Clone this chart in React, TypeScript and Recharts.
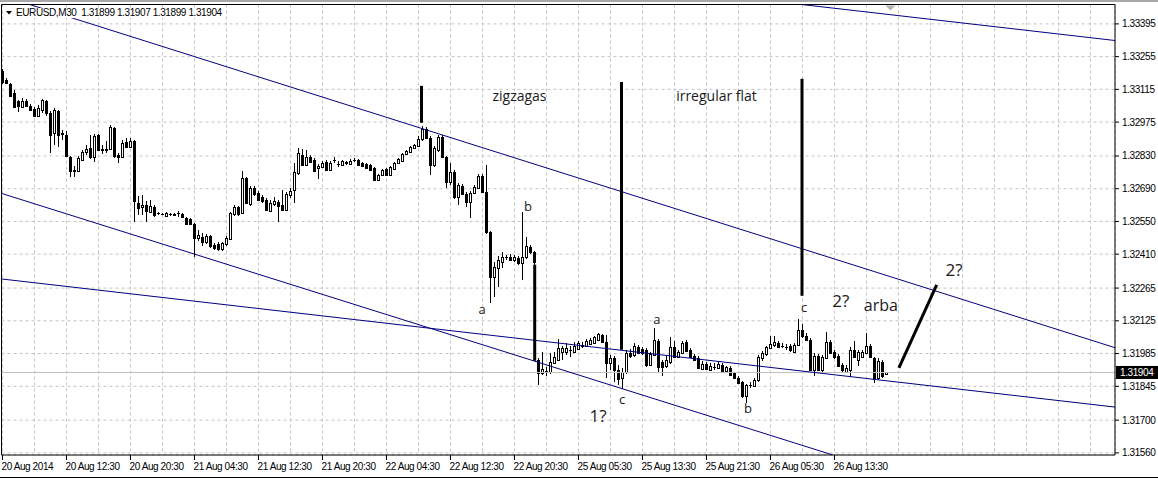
import React from 'react';
import { ComposedChart, Bar, XAxis, YAxis, CartesianGrid, ReferenceLine, ReferenceDot } from 'recharts';

// EURUSD M30 candles
const opens = [
  1.33194, 1.33156, 1.33139, 1.331, 1.33066, 1.3304, 1.33066, 1.33045, 1.33032, 1.33002,
  1.33028, 1.33066, 1.33015, 1.32929, 1.33023, 1.32929, 1.32921, 1.32827, 1.32771, 1.32767,
  1.32814, 1.32848, 1.32865, 1.32827, 1.32921, 1.32861, 1.32861, 1.32861, 1.32951, 1.32835,
  1.32827, 1.32891, 1.32869, 1.32895, 1.3263, 1.32613, 1.32621, 1.32591, 1.32613, 1.32587,
  1.32583, 1.32574, 1.32583, 1.32583, 1.32587, 1.32583, 1.32566, 1.32561, 1.3254, 1.3248,
  1.32484, 1.32463, 1.32489, 1.3245, 1.32454, 1.32433, 1.32454, 1.32476, 1.32583, 1.32613,
  1.32587, 1.32737, 1.32626, 1.32694, 1.32673, 1.32655, 1.32643, 1.32596, 1.32626, 1.32634,
  1.32621, 1.326, 1.32664, 1.32685, 1.32758, 1.32835, 1.32792, 1.32827, 1.32814, 1.3278,
  1.32784, 1.32805, 1.32771, 1.32814, 1.32797, 1.32792, 1.32801, 1.32797, 1.32814, 1.32814,
  1.32801, 1.32797, 1.32792, 1.3278, 1.32728, 1.3275, 1.32775, 1.3275, 1.32775, 1.32801,
  1.32809, 1.32839, 1.32848, 1.32865, 1.32874, 1.32904, 1.32946, 1.32908, 1.32792, 1.32856,
  1.32912, 1.32827, 1.3272, 1.32762, 1.32655, 1.32703, 1.32668, 1.32634, 1.32673, 1.32694,
  1.32745, 1.32677, 1.32506, 1.32313, 1.32352, 1.32377, 1.32399, 1.32399, 1.32386, 1.32395,
  1.32373, 1.32399, 1.32442, 1.3242, 1.31958, 1.31903, 1.31907, 1.31907, 1.31945, 1.31958,
  1.31993, 1.31993, 1.32001, 1.31993, 1.32005, 1.32018, 1.32018, 1.32027, 1.32031, 1.32044,
  1.32065, 1.32035, 1.31945, 1.31967, 1.31915, 1.31881, 1.31907, 1.31988, 1.3198, 1.32014,
  1.32005, 1.32001, 1.31937, 1.3198, 1.3204, 1.3195, 1.31933, 1.3195, 1.32014, 1.31971,
  1.31988, 1.32035, 1.32001, 1.31975, 1.31967, 1.3192, 1.31941, 1.31915, 1.31928, 1.31924,
  1.31937, 1.31911, 1.31924, 1.31903, 1.31881, 1.31864, 1.31804, 1.31851, 1.31847, 1.31873,
  1.31967, 1.31984, 1.3201, 1.32022, 1.32031, 1.32018, 1.32014, 1.32018, 1.31993, 1.32022,
  1.32087, 1.32061, 1.32044, 1.31915, 1.31975, 1.31915, 1.31967, 1.32035, 1.31993, 1.31975,
  1.31937, 1.31907, 1.31915, 1.32001, 1.31958, 1.31971, 1.31988, 1.32018, 1.31967, 1.31881,
  1.3195, 1.31899,
];
const highs = [
  1.33203, 1.33164, 1.33143, 1.33113, 1.3307, 1.33079, 1.33075, 1.33053, 1.3304, 1.33049,
  1.33075, 1.3307, 1.33023, 1.33036, 1.33028, 1.32942, 1.32938, 1.32831, 1.32788, 1.32831,
  1.32856, 1.32878, 1.32921, 1.32925, 1.32925, 1.32878, 1.32895, 1.32963, 1.32955, 1.32844,
  1.32899, 1.32908, 1.32908, 1.32899, 1.3266, 1.32664, 1.32638, 1.32643, 1.32621, 1.32591,
  1.32587, 1.32591, 1.32587, 1.32587, 1.32596, 1.32587, 1.3257, 1.32566, 1.32544, 1.32514,
  1.32502, 1.32497, 1.32493, 1.32459, 1.32463, 1.32463, 1.32489, 1.32591, 1.32621, 1.32617,
  1.32767, 1.32741, 1.32703, 1.32703, 1.32681, 1.32664, 1.32651, 1.32643, 1.32655, 1.32643,
  1.32685, 1.32677, 1.32694, 1.32801, 1.32865, 1.32861, 1.32856, 1.32835, 1.32822, 1.32797,
  1.32809, 1.32814, 1.32809, 1.32827, 1.32809, 1.32814, 1.32809, 1.32818, 1.32822, 1.32818,
  1.32805, 1.32801, 1.32797, 1.32784, 1.32754, 1.32775, 1.3278, 1.32788, 1.32805, 1.32822,
  1.32844, 1.32856, 1.32874, 1.32882, 1.32916, 1.32959, 1.32955, 1.32916, 1.32874, 1.32921,
  1.32921, 1.32831, 1.32801, 1.32771, 1.32715, 1.32711, 1.32677, 1.32681, 1.32707, 1.32754,
  1.32754, 1.32792, 1.3251, 1.32377, 1.32403, 1.3242, 1.32407, 1.32412, 1.32407, 1.32403,
  1.32591, 1.32484, 1.3245, 1.32425, 1.31967, 1.31993, 1.31928, 1.31988, 1.31993, 1.32048,
  1.32018, 1.32031, 1.32018, 1.32035, 1.3204, 1.32035, 1.32048, 1.32052, 1.32061, 1.32074,
  1.32069, 1.32065, 1.3198, 1.31975, 1.31937, 1.31924, 1.32001, 1.32005, 1.32031, 1.32022,
  1.32014, 1.3201, 1.31993, 1.32095, 1.32048, 1.31958, 1.3198, 1.32057, 1.3204, 1.32001,
  1.3204, 1.32044, 1.3201, 1.31984, 1.31975, 1.31954, 1.3195, 1.31945, 1.31945, 1.3195,
  1.31945, 1.31933, 1.31933, 1.31907, 1.3189, 1.31868, 1.31856, 1.31864, 1.31881, 1.3198,
  1.31997, 1.32018, 1.32061, 1.32061, 1.3204, 1.32031, 1.32027, 1.32027, 1.32031, 1.32134,
  1.32112, 1.32074, 1.32052, 1.31988, 1.31984, 1.3198, 1.32078, 1.32044, 1.32001, 1.31984,
  1.31945, 1.31937, 1.32014, 1.3204, 1.32001, 1.32001, 1.32074, 1.32027, 1.31971, 1.31967,
  1.31958, 1.31907,
];
const lows = [
  1.33139, 1.33139, 1.33083, 1.33036, 1.33019, 1.33036, 1.3304, 1.33023, 1.32998, 1.32998,
  1.33015, 1.33002, 1.32844, 1.32878, 1.32869, 1.32899, 1.32825, 1.32741, 1.32741, 1.32762,
  1.32809, 1.32835, 1.32818, 1.32805, 1.32852, 1.32839, 1.32844, 1.32856, 1.32822, 1.32801,
  1.32822, 1.32865, 1.32865, 1.32549, 1.32578, 1.32578, 1.32549, 1.32587, 1.3257, 1.32578,
  1.32578, 1.3257, 1.32574, 1.32574, 1.3257, 1.32566, 1.32536, 1.32536, 1.32399, 1.32467,
  1.32446, 1.32454, 1.32437, 1.32429, 1.32425, 1.32425, 1.32446, 1.32472, 1.32574, 1.32574,
  1.32583, 1.32626, 1.32617, 1.3266, 1.32638, 1.3263, 1.32596, 1.32591, 1.32617, 1.32549,
  1.32596, 1.32596, 1.32651, 1.3263, 1.3275, 1.32788, 1.32788, 1.32801, 1.32762, 1.32732,
  1.3278, 1.32767, 1.32767, 1.32801, 1.32784, 1.32788, 1.32792, 1.32792, 1.32805, 1.32788,
  1.32784, 1.32775, 1.32767, 1.32724, 1.32724, 1.32745, 1.32745, 1.32745, 1.32771, 1.32797,
  1.32805, 1.32835, 1.32844, 1.32861, 1.32869, 1.32895, 1.32904, 1.3275, 1.32784, 1.32848,
  1.32822, 1.32694, 1.32707, 1.32647, 1.32621, 1.32664, 1.32613, 1.32566, 1.32668, 1.3269,
  1.32673, 1.32497, 1.32202, 1.32228, 1.32271, 1.32352, 1.32386, 1.32382, 1.32377, 1.32365,
  1.323, 1.3239, 1.32412, 1.32365, 1.31851, 1.31894, 1.3189, 1.31898, 1.31941, 1.31954,
  1.31958, 1.3198, 1.31971, 1.31988, 1.32001, 1.3201, 1.32014, 1.32022, 1.32027, 1.3204,
  1.32031, 1.31881, 1.31915, 1.31864, 1.31851, 1.31834, 1.31898, 1.31967, 1.31971, 1.31984,
  1.3198, 1.31928, 1.31933, 1.31975, 1.31907, 1.3189, 1.31924, 1.31941, 1.31967, 1.31967,
  1.31984, 1.31993, 1.31967, 1.31954, 1.3192, 1.31915, 1.31915, 1.31911, 1.31915, 1.3192,
  1.31903, 1.31907, 1.3189, 1.31877, 1.31856, 1.31796, 1.31774, 1.31839, 1.31843, 1.31864,
  1.31954, 1.31975, 1.32005, 1.32014, 1.3201, 1.3201, 1.32001, 1.31993, 1.31988, 1.32018,
  1.32052, 1.3204, 1.31911, 1.3189, 1.31911, 1.31907, 1.31963, 1.31984, 1.31963, 1.31928,
  1.31907, 1.31903, 1.31886, 1.31967, 1.31933, 1.31967, 1.31984, 1.31967, 1.3186, 1.31873,
  1.31881, 1.31899,
];
const closes = [
  1.33147, 1.33143, 1.33087, 1.3304, 1.33045, 1.33066, 1.33045, 1.33028, 1.33002, 1.33036,
  1.3307, 1.33015, 1.32921, 1.33028, 1.32921, 1.32925, 1.32829, 1.32767, 1.32767, 1.32822,
  1.32848, 1.32861, 1.32827, 1.32916, 1.32856, 1.32856, 1.32856, 1.32955, 1.32831, 1.32827,
  1.32886, 1.32869, 1.32895, 1.32638, 1.32608, 1.32621, 1.32596, 1.32617, 1.32578, 1.32585,
  1.32584, 1.32587, 1.32582, 1.32578, 1.32588, 1.3257, 1.3254, 1.3254, 1.3248, 1.32493,
  1.32463, 1.32489, 1.32446, 1.32437, 1.32433, 1.32459, 1.3248, 1.32587, 1.32613, 1.32583,
  1.32737, 1.3263, 1.32694, 1.32668, 1.32643, 1.32638, 1.326, 1.3263, 1.32638, 1.32617,
  1.326, 1.32668, 1.32681, 1.32762, 1.32844, 1.32792, 1.32827, 1.32805, 1.32767, 1.32788,
  1.32801, 1.32771, 1.32801, 1.32812, 1.32795, 1.32809, 1.32803, 1.32809, 1.32812, 1.32792,
  1.32788, 1.3278, 1.32771, 1.32728, 1.3275, 1.32771, 1.3275, 1.32784, 1.32801, 1.32818,
  1.32839, 1.32852, 1.32869, 1.32878, 1.32904, 1.32946, 1.32908, 1.32792, 1.32865, 1.32912,
  1.32827, 1.3272, 1.32762, 1.32655, 1.32707, 1.32668, 1.32634, 1.32673, 1.32698, 1.32745,
  1.32677, 1.32506, 1.32313, 1.32356, 1.32386, 1.32399, 1.32397, 1.32386, 1.32399, 1.32373,
  1.32399, 1.32446, 1.3242, 1.32377, 1.31903, 1.3192, 1.31911, 1.3195, 1.31971, 1.3201,
  1.3201, 1.3201, 1.31999, 1.32018, 1.32031, 1.32022, 1.3204, 1.32044, 1.32057, 1.32069,
  1.32035, 1.31945, 1.31967, 1.31915, 1.31877, 1.31907, 1.31988, 1.31975, 1.32018, 1.31988,
  1.31988, 1.31937, 1.31984, 1.32044, 1.31928, 1.31928, 1.31958, 1.32014, 1.31971, 1.31993,
  1.32031, 1.31997, 1.31971, 1.31958, 1.31924, 1.31941, 1.3192, 1.31933, 1.31927, 1.31941,
  1.31907, 1.31928, 1.31894, 1.31881, 1.3186, 1.31804, 1.31851, 1.31849, 1.31873, 1.31971,
  1.31988, 1.32014, 1.32027, 1.32035, 1.32014, 1.32016, 1.32012, 1.32001, 1.32022, 1.32087,
  1.32061, 1.32044, 1.31915, 1.31975, 1.31915, 1.31971, 1.32035, 1.31988, 1.31971, 1.31933,
  1.31915, 1.31924, 1.32001, 1.31971, 1.31993, 1.31993, 1.32018, 1.31971, 1.31877, 1.31954,
  1.3189, 1.31904,
];

// one label every 16 bars
const timeLabels = [
  '20 Aug 2014', '20 Aug 12:30', '20 Aug 20:30', '21 Aug 04:30', '21 Aug 12:30', '21 Aug 20:30',
  '22 Aug 04:30', '22 Aug 12:30', '22 Aug 20:30', '25 Aug 05:30', '25 Aug 13:30', '25 Aug 21:30',
  '26 Aug 05:30', '26 Aug 13:30',
];
const priceTicks = [
  1.33395, 1.33255, 1.33115, 1.32975, 1.3283, 1.3269, 1.3255, 1.3241, 1.32265, 1.32125,
  1.31985, 1.31845, 1.317, 1.3156,
];
const lastPrice = 1.31904;

// drawn objects: [bar, price, bar, price]
const trendLines = [
  [6.8, 1.33478, 278.125, 1.3201],
  [199.8, 1.33478, 278.125, 1.33324],
  [-0.25, 1.3267, 207.6, 1.31551],
  [-0.25, 1.32304, 278.125, 1.31756],
];
const markerLines = [
  [104.75, 1.3313, 104.75, 1.32972],
  [133.05, 1.32365, 133.05, 1.31954],
  [154.75, 1.33147, 154.75, 1.32001],
  [199.875, 1.3316, 199.875, 1.32232],
  [224.1, 1.31924, 233.55, 1.32279],
];
const notes = [
  { text: 'zigzagas', bar: 129.25, price: 1.33083, size: 14 },
  { text: 'irregular flat', bar: 178.5, price: 1.33083, size: 14 },
  { text: 'b', bar: 131.4, price: 1.32613, size: 13 },
  { text: 'a', bar: 119.9, price: 1.32172, size: 13 },
  { text: 'a', bar: 163.6, price: 1.32129, size: 13 },
  { text: 'c', bar: 154.9, price: 1.31787, size: 13 },
  { text: '1?', bar: 148.9, price: 1.31715, size: 17 },
  { text: 'b', bar: 186.4, price: 1.31749, size: 13 },
  { text: 'c', bar: 200.4, price: 1.32181, size: 13 },
  { text: '2?', bar: 209.6, price: 1.32206, size: 17 },
  { text: 'arba', bar: 219.6, price: 1.32189, size: 16 },
  { text: '2?', bar: 237.9, price: 1.32339, size: 17 },
];

const X_MIN = -0.25;
const X_MAX = 278.125;
const Y_MIN = 1.31551;
const Y_MAX = 1.33478;

const data = opens.map((o, i) => ({
  i,
  open: o,
  high: highs[i],
  low: lows[i],
  close: closes[i],
  range: [lows[i], highs[i]],
}));

const gridBars = Array.from({ length: 35 }, (_, k) => k * 8);
const axisFont = { fontFamily: 'Liberation Sans, Arial, sans-serif', fontSize: 10, letterSpacing: -0.4 };

const Candle = (props: any) => {
  const { x, y, width, height, payload } = props;
  if (!payload || x == null) return null;
  const { open, close, high, low } = payload;
  const cx = Math.floor(x + width / 2) + 0.5;
  const h = Math.abs(height);
  const top = height < 0 ? y + height : y;
  const k = high > low ? h / (high - low) : 0;
  const yo = top + (high - open) * k;
  const yc = top + (high - close) * k;
  const b0 = Math.round(Math.min(yo, yc));
  const b1 = Math.round(Math.max(yo, yc));
  return (
    <g shapeRendering="crispEdges">
      <line x1={cx} x2={cx} y1={top} y2={top + h} stroke="#000" />
      {b1 - b0 < 1 ? (
        <line x1={cx - 1.5} x2={cx + 1.5} y1={b0 + 0.5} y2={b0 + 0.5} stroke="#000" />
      ) : (
        <rect x={cx - 1} y={b0 + 0.5} width={2} height={b1 - b0} fill={close >= open ? '#fff' : '#000'} stroke="#000" />
      )}
    </g>
  );
};

const TimeTick = (props: any) => {
  const { x, y, payload } = props;
  const bar = payload.value;
  if (bar % 16 !== 0 || !timeLabels[bar / 16]) return <g />;
  return (
    <g>
      <line x1={x} x2={x} y1={y} y2={y + 5} stroke="#000" shapeRendering="crispEdges" />
      <text x={x - 1} y={y + 15} fill="#000" {...axisFont}>{timeLabels[bar / 16]}</text>
    </g>
  );
};

const PriceTick = (props: any) => {
  const { x, y, payload } = props;
  return (
    <text x={x} y={y} dy={3.5} fill="#000" textAnchor="start" {...axisFont}>
      {Number(payload.value).toFixed(5)}
    </text>
  );
};

const PriceTag = (props: any) => {
  const vb = props.viewBox;
  if (!vb) return null;
  const x = vb.x + vb.width;
  return (
    <g>
      <rect x={x + 1} y={vb.y - 6.5} width={43} height={13} fill="#000" />
      <text x={x + 5} y={vb.y + 3.5} fill="#fff" {...axisFont}>{lastPrice.toFixed(5)}</text>
    </g>
  );
};

export default function App() {
  return (
    <div style={{ position: 'absolute', left: 0, top: 0, width: 1158, height: 478, background: '#fff', overflow: 'hidden' }}>
      <ComposedChart width={1158} height={478} data={data} margin={{ top: 4.5, right: 0, bottom: 0, left: 1.5 }}>
        <CartesianGrid stroke="#c4c4c4" strokeDasharray="3 3" />
        <XAxis
          type="number"
          dataKey="i"
          domain={[X_MIN, X_MAX]}
          allowDataOverflow
          ticks={gridBars}
          interval={0}
          height={23}
          axisLine={{ stroke: '#000' }}
          tickLine={false}
          tickSize={0}
          tickMargin={0}
          tick={<TimeTick />}
        />
        <YAxis
          orientation="right"
          domain={[Y_MIN, Y_MAX]}
          allowDataOverflow
          ticks={priceTicks}
          interval={0}
          width={43}
          axisLine={{ stroke: '#000' }}
          tickLine={{ stroke: '#000' }}
          tickSize={4}
          tickMargin={3}
          tick={<PriceTick />}
        />
        <ReferenceLine x={X_MIN} stroke="#000" />
        <ReferenceLine y={Y_MAX} stroke="#000" />
        <ReferenceLine y={lastPrice} stroke="#c0c0c0" label={(p: any) => <PriceTag {...p} />} />
        <Bar dataKey="range" barSize={3} isAnimationActive={false} shape={(p: any) => <Candle {...p} />} />
        {trendLines.map((l, k) => (
          <ReferenceLine
            key={`t${k}`}
            segment={[{ x: l[0], y: l[1] }, { x: l[2], y: l[3] }]}
            stroke="#000080"
            strokeWidth={1}
            ifOverflow="hidden"
          />
        ))}
        {markerLines.map((l, k) => (
          <ReferenceLine
            key={`m${k}`}
            segment={[{ x: l[0], y: l[1] }, { x: l[2], y: l[3] }]}
            stroke="#000"
            strokeWidth={3}
          />
        ))}
        <ReferenceDot
          x={222}
          y={Y_MAX}
          r={0}
          shape={(p: any) => <path d={`M${p.cx - 5},${p.cy + 1}L${p.cx + 5},${p.cy + 1}L${p.cx},${p.cy + 6}Z`} fill="#b4b4b4" />}
        />
        {notes.map((n, k) => (
          <ReferenceDot
            key={`n${k}`}
            x={n.bar}
            y={n.price}
            r={0}
            shape={(p: any) => (
              <text x={p.cx} y={p.cy + n.size * 0.3} textAnchor="middle" fontFamily="Open Sans" fontSize={n.size} fill="#1a1a1a">
                {n.text}
              </text>
            )}
          />
        ))}
      </ComposedChart>
      <div style={{ position: 'absolute', left: 0, top: 0, width: 1158, height: 2, background: '#a8a8a8' }} />
      <div style={{ position: 'absolute', left: 0, top: 477, width: 1158, height: 1, background: '#000' }} />
      <svg style={{ position: 'absolute', left: 6, top: 11 }} width={7} height={4}>
        <path d="M0,0L6,0L3,3.5Z" fill="#000" />
      </svg>
      <div
        style={{
          position: 'absolute', left: 16, top: 8, height: 10, lineHeight: '10px', background: '#fff',
          fontFamily: 'Liberation Sans, Arial, sans-serif', fontSize: 10, letterSpacing: -0.4, color: '#000', whiteSpace: 'pre',
        }}
      >
        {'EURUSD,M30  1.31899 1.31907 1.31899 1.31904'}
      </div>
    </div>
  );
}
